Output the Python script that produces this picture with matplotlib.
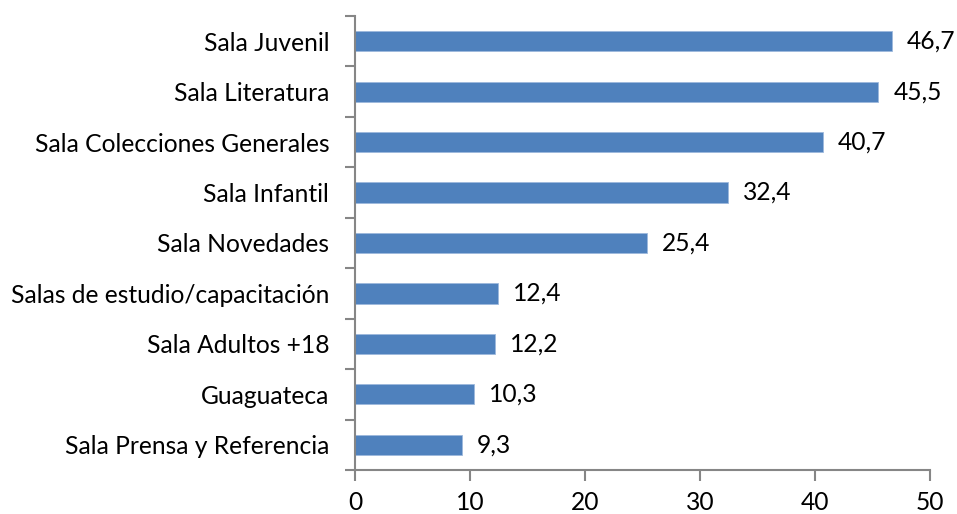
import numpy as np
import matplotlib.pyplot as plt

salas = ['Sala Juvenil', 'Sala Literatura', 'Sala Colecciones Generales',
         'Sala Infantil', 'Sala Novedades', 'Salas de estudio/capacitación',
         'Sala Adultos +18', 'Guaguateca', 'Sala Prensa y Referencia']
valores = [46.7, 45.5, 40.7, 32.4, 25.4, 12.4, 12.2, 10.3, 9.3]
etiquetas = ['46,7', '45,5', '40,7', '32,4', '25,4', '12,4', '12,2', '10,3', '9,3']

plt.rcParams['font.family'] = ['Lato', 'DejaVu Sans']
gris = '#868686'
fs = 17.7

fig = plt.figure(figsize=(9.57, 5.14), dpi=100)
ax = fig.add_axes([0.371, 0.0856, 0.601, 0.8834])

y = np.arange(len(salas))
ax.barh(y, valores, height=0.4, color='#4F81BD', edgecolor='#9DB9DC', linewidth=0.6)
for yi, v, t in zip(y, valores, etiquetas):
    ax.text(v + 1.3, yi, t, va='center', ha='left', fontsize=fs, color='black')

ax.set_xlim(0, 50)
ax.set_ylim(len(salas) - 0.5, -0.5)
ax.set_xticks([0, 10, 20, 30, 40, 50])
ax.set_yticks(y)
ax.set_yticklabels(salas, fontsize=fs)
ax.tick_params(axis='y', length=0, pad=18.5)
ax.set_yticks(np.arange(-0.5, len(salas), 1), minor=True)
ax.tick_params(axis='y', which='minor', length=7, width=1.5, color=gris)
ax.tick_params(axis='x', length=8, width=1.5, color=gris, labelsize=fs, pad=7)

for s in ['top', 'right']:
    ax.spines[s].set_visible(False)
for s in ['left', 'bottom']:
    ax.spines[s].set_color(gris)
    ax.spines[s].set_linewidth(1.5)

plt.savefig('out.png', dpi=100)
